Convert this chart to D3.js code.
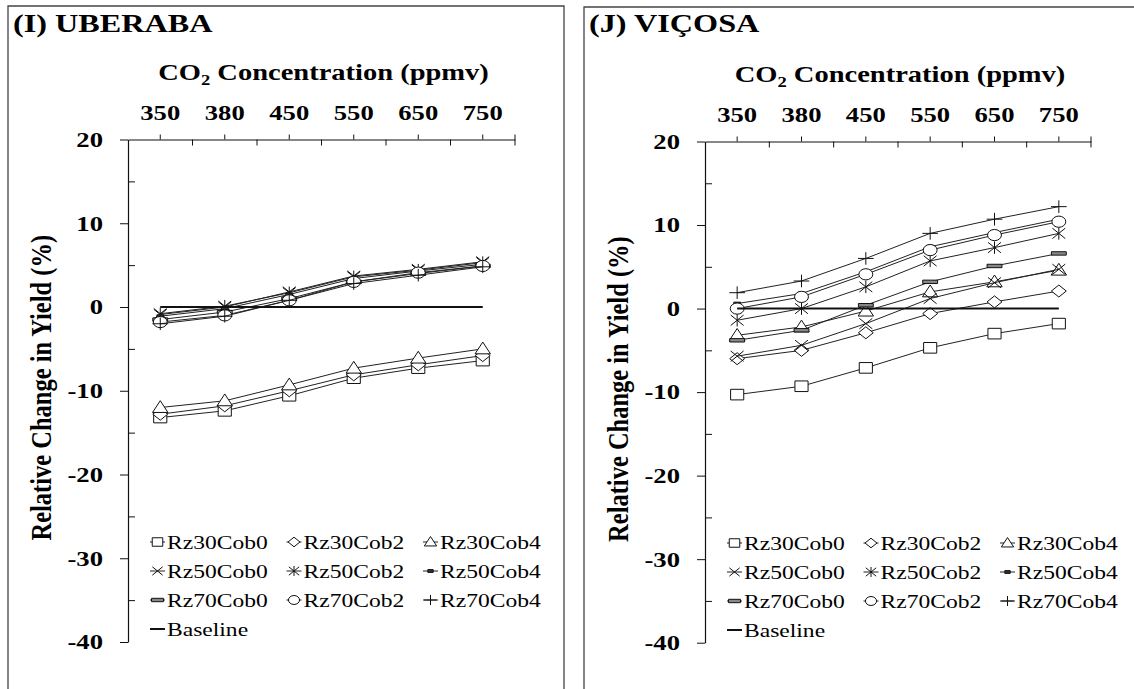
<!DOCTYPE html>
<html>
<head>
<meta charset="utf-8">
<script src="https://cdn.jsdelivr.net/npm/d3@7"></script>
<style>
  body { margin: 0; background: #fff; }
  svg { display: block; }
</style>
</head>
<body>
<div id="chart"></div>
<script>
// ---- data ----
const co2Levels = ['350', '380', '450', '550', '650', '750'];
const yTickValues = [20, 10, 0, -10, -20, -30, -40];
const yMinorValues = [15, 5, -5, -15, -25, -35];
const seriesNames = ['Rz30Cob0', 'Rz30Cob2', 'Rz30Cob4', 'Rz50Cob0', 'Rz50Cob2', 'Rz50Cob4', 'Rz70Cob0', 'Rz70Cob2', 'Rz70Cob4'];
const baselineValues = [0, 0, 0, 0, 0, 0];

// (I) Uberaba
const ubeRz30Cob0 = [-13.2, -12.4, -10.6, -8.5, -7.3, -6.4];
const ubeRz30Cob2 = [-12.8, -11.8, -10.0, -8.1, -6.9, -5.8];
const ubeRz30Cob4 = [-12.0, -11.2, -9.3, -7.3, -6.1, -5.0];
const ubeRz50Cob0 = [-0.9, 0.0, 1.8, 3.7, 4.5, 5.4];
const ubeRz50Cob2 = [-0.8, 0.1, 1.7, 3.6, 4.4, 5.3];
const ubeRz50Cob4 = [-1.1, -0.2, 1.5, 3.4, 4.3, 5.1];
const ubeRz70Cob0 = [-1.5, -0.6, 1.0, 3.0, 4.0, 4.9];
const ubeRz70Cob2 = [-1.8, -1.0, 0.8, 3.0, 4.1, 4.9];
const ubeRz70Cob4 = [-2.0, -1.1, 0.8, 2.8, 3.8, 4.8];

// (J) Viçosa
const vicRz30Cob0 = [-10.3, -9.3, -7.1, -4.7, -3.0, -1.8];
const vicRz30Cob2 = [-6.0, -5.0, -2.9, -0.6, 0.8, 2.1];
const vicRz30Cob4 = [-3.2, -2.2, -0.3, 2.0, 3.2, 4.6];
const vicRz50Cob0 = [-5.7, -4.4, -1.8, 1.2, 3.1, 4.7];
const vicRz50Cob2 = [-1.4, 0.0, 2.6, 5.7, 7.3, 9.0];
const vicRz50Cob4 = [0.6, 1.8, 4.4, 7.4, 9.1, 10.7];
const vicRz70Cob0 = [-3.8, -2.6, 0.4, 3.2, 5.1, 6.6];
const vicRz70Cob2 = [0.0, 1.4, 4.1, 7.0, 8.8, 10.4];
const vicRz70Cob4 = [1.9, 3.3, 6.0, 9.0, 10.7, 12.2];

// ---- style ----
const SX = 1.24;   // the original figure is stretched sideways
const FONT = '"Liberation Serif", "Times New Roman", serif';
const INK = '#111';

// marker shapes, r = half width before stretching
const markerTypes = {
  square: { draw(c, r) { c.rect(-r, -r, 2 * r, 2 * r); } },
  diamond: { draw(c, r) { c.moveTo(0, -r); c.lineTo(r, 0); c.lineTo(0, r); c.lineTo(-r, 0); c.closePath(); } },
  triangle: { draw(c, r) { c.moveTo(0, -r * 1.1); c.lineTo(r, r * 0.8); c.lineTo(-r, r * 0.8); c.closePath(); } },
  cross: { draw(c, r) { c.moveTo(-r, -r); c.lineTo(r, r); c.moveTo(-r, r); c.lineTo(r, -r); } },
  star: { draw(c, r) { c.moveTo(-r, -r); c.lineTo(r, r); c.moveTo(-r, r); c.lineTo(r, -r); c.moveTo(0, -r * 1.2); c.lineTo(0, r * 1.2); } },
  dashSmall: { draw(c, r) { c.rect(-r * 0.45, -1.4, r * 0.9, 2.8); } },
  dash: { draw(c, r) { c.rect(-r, -1.7, 2 * r, 3.4); } },
  circle: { draw(c, r) { c.moveTo(r, 0); c.arc(0, 0, r, 0, 2 * Math.PI); } },
  plus: { draw(c, r) { c.moveTo(-r, 0); c.lineTo(r, 0); c.moveTo(0, -r); c.lineTo(0, r); } }
};
const seriesMarkers = ['square', 'diamond', 'triangle', 'cross', 'star', 'dashSmall', 'dash', 'circle', 'plus'];
const markerFill = { dashSmall: '#333', dash: '#888' };
const markerSize = { square: 5.3, diamond: 6, triangle: 6.2, cross: 5.2, star: 5.2, dashSmall: 6, dash: 6, circle: 5.6, plus: 6.3 };

const panels = [
  {
    title: '(I) UBERABA',
    values: [ubeRz30Cob0, ubeRz30Cob2, ubeRz30Cob4, ubeRz50Cob0, ubeRz50Cob2, ubeRz50Cob4, ubeRz70Cob0, ubeRz70Cob2, ubeRz70Cob4],
    frame: { x: 8, y: 6, w: 556 },
    titlePos: [13, 32],
    xRange: [128, 515],
    yRange: [642, 139.5],
    legend: [150, 542]
  },
  {
    title: '(J) VIÇOSA',
    values: [vicRz30Cob0, vicRz30Cob2, vicRz30Cob4, vicRz50Cob0, vicRz50Cob2, vicRz50Cob4, vicRz70Cob0, vicRz70Cob2, vicRz70Cob4],
    frame: { x: 584, y: 7, w: 560 },
    titlePos: [589, 32],
    xRange: [705, 1091],
    yRange: [642.7, 141.5],
    legend: [727, 543]
  }
];

const width = 1134, height = 689;
const svg = d3.select('#chart').append('svg')
  .attr('width', width)
  .attr('height', height)
  .attr('font-family', FONT);

const stretch = (x, y) => `translate(${x},${y}) scale(${SX},1)`;

function addMarker(g, kind, cx, cy, r) {
  g.append('path')
    .attr('d', d3.symbol().type(markerTypes[kind]).size(r)())
    .attr('transform', stretch(cx, cy))
    .attr('fill', markerFill[kind] || '#fff')
    .attr('stroke', INK)
    .attr('stroke-width', 1)
    .attr('vector-effect', 'non-scaling-stroke');
}

function drawPanel(p) {
  const g = svg.append('g');

  // frame (open at the bottom)
  g.append('path')
    .attr('d', `M${p.frame.x},${height + 5}V${p.frame.y}H${p.frame.x + p.frame.w}V${height + 5}`)
    .attr('fill', 'none')
    .attr('stroke', '#444')
    .attr('stroke-width', 1.3);

  g.append('text')
    .attr('transform', stretch(p.titlePos[0], p.titlePos[1]))
    .attr('font-size', 26)
    .attr('font-weight', 'bold')
    .text(p.title);

  const x = d3.scaleBand().domain(co2Levels).range(p.xRange);
  const y = d3.scaleLinear().domain([-40, 20]).range(p.yRange);
  const cx = d => x(d) + x.bandwidth() / 2;
  const x0 = p.xRange[0], yTop = y(20);

  // axis title on top
  const co2 = g.append('text')
    .attr('transform', stretch((p.xRange[0] + p.xRange[1]) / 2 + 2, yTop - 59.5))
    .attr('text-anchor', 'middle')
    .attr('font-size', 23)
    .attr('font-weight', 'bold');
  co2.append('tspan').text('CO');
  co2.append('tspan').attr('font-size', 15).attr('dy', 5).text('2');
  co2.append('tspan').attr('dy', -5).text(' Concentration (ppmv)');

  // top category axis
  const xAxis = g.append('g')
    .attr('transform', `translate(0,${yTop})`)
    .call(d3.axisTop(x).tickSizeInner(5).tickSizeOuter(0));
  xAxis.select('.domain').attr('stroke', INK).attr('stroke-width', 1.2);
  xAxis.selectAll('.tick line').attr('stroke', INK);
  xAxis.selectAll('.tick text')
    .attr('y', -19.5)
    .attr('transform', `scale(${SX},1)`)
    .attr('font-family', FONT)
    .attr('font-size', 21.5)
    .attr('font-weight', 'bold')
    .attr('fill', '#000');
  // boundary ticks between categories
  const bounds = co2Levels.map(d => x(d)).concat([p.xRange[1]]).slice(1);
  g.selectAll('.bound').data(bounds).join('line')
    .attr('x1', d => d).attr('x2', d => d)
    .attr('y1', (d, i) => i === bounds.length - 1 ? yTop - 5 : yTop)
    .attr('y2', yTop + 6)
    .attr('stroke', INK);

  // left value axis
  const yAxis = g.append('g')
    .attr('transform', `translate(${x0},0)`)
    .call(d3.axisLeft(y).tickValues(yTickValues).tickSizeInner(8).tickSizeOuter(0)
      .tickFormat(d => String(d)));
  yAxis.select('.domain').attr('stroke', INK).attr('stroke-width', 1.2);
  yAxis.selectAll('.tick line').attr('stroke', INK);
  yAxis.selectAll('.tick text')
    .attr('x', 0)
    .attr('transform', `translate(-25,0) scale(${SX},1)`)
    .attr('font-family', FONT)
    .attr('font-size', 21.5)
    .attr('font-weight', 'bold')
    .attr('fill', '#000');
  const yMinor = g.append('g')
    .attr('transform', `translate(${x0},0)`)
    .call(d3.axisRight(y).tickValues(yMinorValues).tickSize(7).tickFormat(''));
  yMinor.select('.domain').remove();
  yMinor.selectAll('.tick line').attr('stroke', INK);

  g.append('text')
    .attr('transform', `translate(${x0 - 77},${(y(20) + y(-40)) / 2 - 3}) scale(${SX},1) rotate(-90)`)
    .attr('text-anchor', 'middle')
    .attr('font-size', 24.5)
    .attr('font-weight', 'bold')
    .text('Relative Change in Yield (%)');

  // series
  const line = d3.line().x((v, i) => cx(co2Levels[i])).y(v => y(v));
  p.values.forEach((vals, s) => {
    const sg = g.append('g');
    sg.append('path')
      .attr('d', line(vals))
      .attr('fill', 'none')
      .attr('stroke', '#222')
      .attr('stroke-width', 1);
    vals.forEach((v, i) => addMarker(sg, seriesMarkers[s], cx(co2Levels[i]), y(v), markerSize[seriesMarkers[s]]));
  });
  g.append('path')
    .attr('d', line(baselineValues))
    .attr('fill', 'none')
    .attr('stroke', '#111')
    .attr('stroke-width', 2);

  // legend
  const [lx, ly] = p.legend;
  const colW = 136.5, rowH = 29;
  seriesNames.forEach((name, i) => {
    const gx = lx + (i % 3) * colW, gy = ly + Math.floor(i / 3) * rowH;
    const kind = seriesMarkers[i];
    g.append('line')
      .attr('x1', gx).attr('x2', gx + 15).attr('y1', gy).attr('y2', gy)
      .attr('stroke', '#222');
    addMarker(g, kind, gx + 7.5, gy, markerSize[kind] * 0.8);
    g.append('text')
      .attr('transform', stretch(gx + 17, gy + 6.5))
      .attr('font-size', 19)
      .text(name);
  });
  const by = ly + 3 * rowH;
  g.append('line')
    .attr('x1', lx).attr('x2', lx + 15).attr('y1', by).attr('y2', by)
    .attr('stroke', '#111').attr('stroke-width', 2);
  g.append('text')
    .attr('transform', stretch(lx + 17, by + 6.5))
    .attr('font-size', 19)
    .text('Baseline');
}

panels.forEach(drawPanel);
</script>
</body>
</html>
